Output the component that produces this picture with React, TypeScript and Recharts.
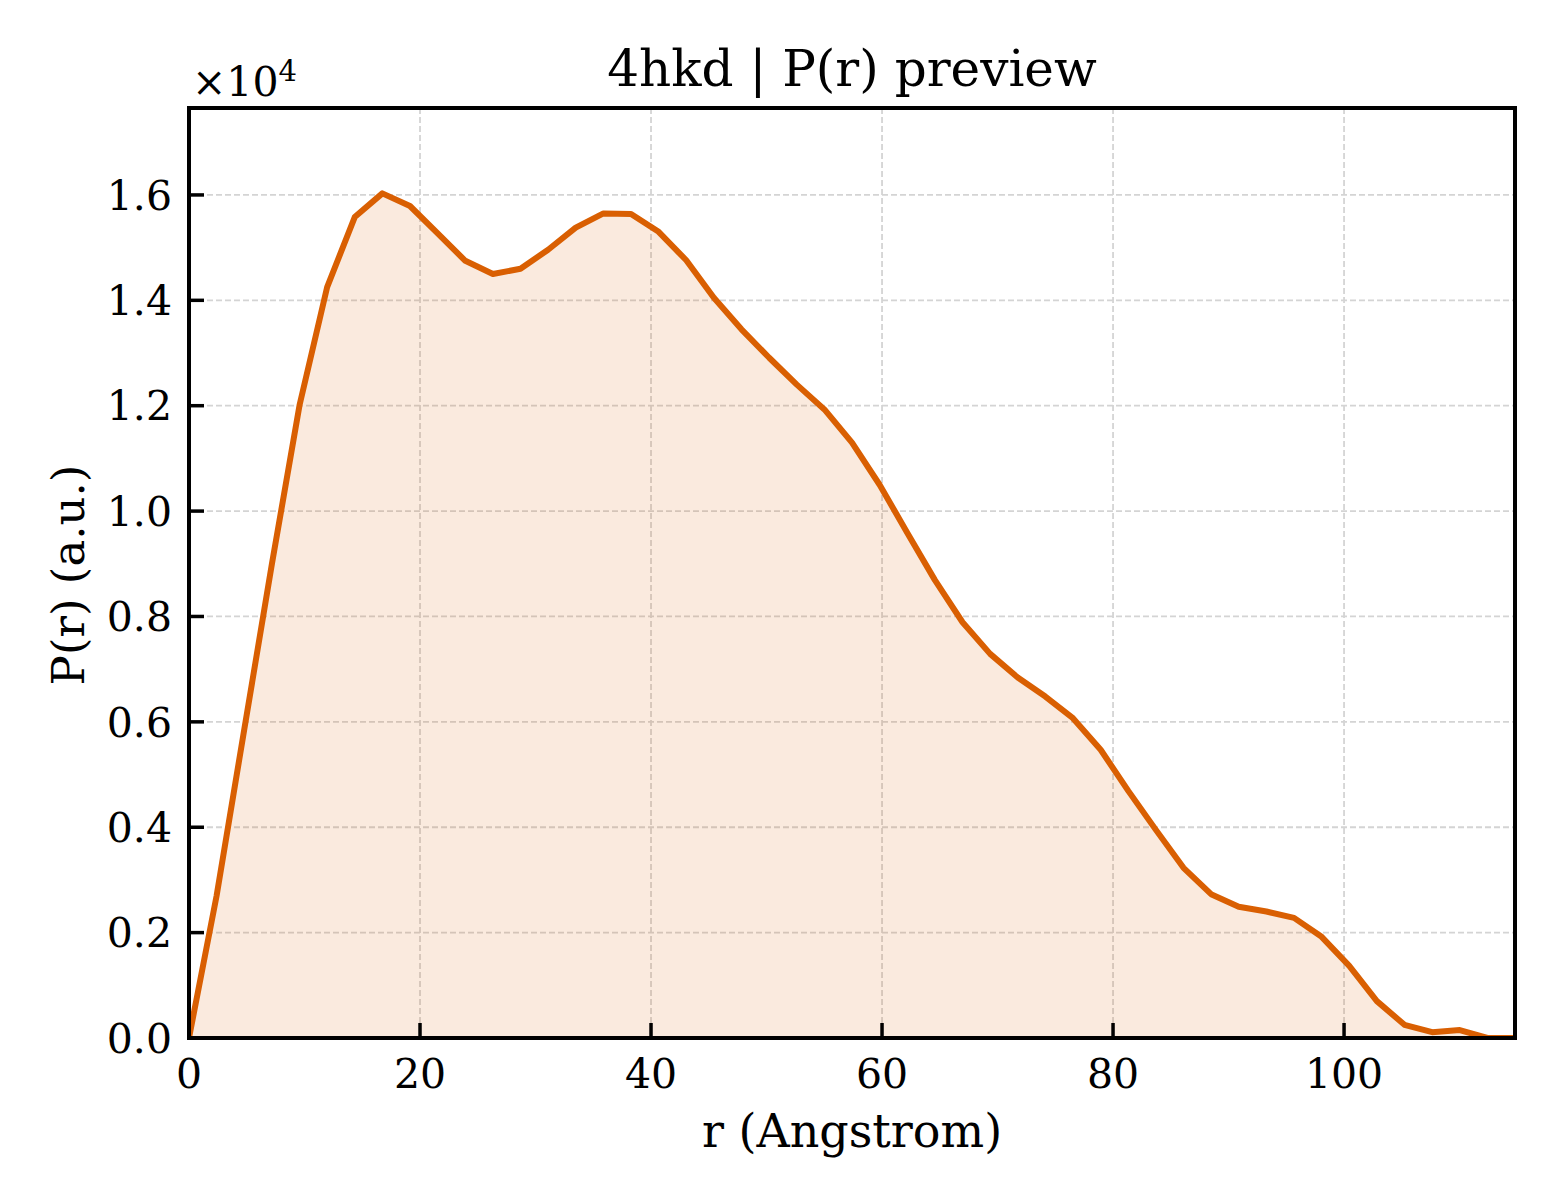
import React from "react";
import {
  Area,
  CartesianGrid,
  ComposedChart,
  Customized,
  ReferenceArea,
  ReferenceLine,
  XAxis,
  YAxis,
} from "recharts";

// r in Angstrom, P(r) in arbitrary units (raw, axis shows x10^4)
const rValues = [
  0, 2.39, 4.78, 7.18, 9.57, 11.96, 14.35, 16.74, 19.13, 21.53, 23.92, 26.31,
  28.7, 31.09, 33.48, 35.88, 38.27, 40.66, 43.05, 45.44, 47.83, 50.23, 52.62,
  55.01, 57.4, 59.79, 62.18, 64.58, 66.97, 69.36, 71.75, 74.14, 76.53, 78.93,
  81.32, 83.71, 86.1, 88.49, 90.88, 93.28, 95.67, 98.06, 100.45, 102.84,
  105.23, 107.63, 110.02, 112.41, 114.8,
];

const prValues = [
  0, 2700, 5850, 9000, 12010, 14250, 15580, 16030, 15790, 15270, 14750, 14500,
  14600, 14960, 15380, 15650, 15640, 15300, 14760, 14050, 13450, 12910, 12400,
  11930, 11300, 10500, 9590, 8690, 7890, 7290, 6840, 6480, 6070, 5470, 4690,
  3950, 3230, 2730, 2490, 2400, 2280, 1920, 1370, 700, 250, 110, 150, 0, 0,
];

const xTicks = [0, 20, 40, 60, 80, 100];
const yTicks = [0, 2000, 4000, 6000, 8000, 10000, 12000, 14000, 16000];

const X_MAX = 114.8;
const Y_MAX = 17650;

const FONT = "'DejaVu Serif', serif";
const LINE = "#d95f02";

// plot box is 1326 x 930 px; inward tick marks ~15 px long
const PLOT_W = 1326;
const PLOT_H = 930;
const TICK_PX = 15;
const X_TICK_LEN = (Y_MAX * TICK_PX) / PLOT_H;
const Y_TICK_LEN = (X_MAX * TICK_PX) / PLOT_W;

const data = rValues.map((r, i) => ({ r, pr: prValues[i] }));

function XTick(props: any) {
  const { x, y, payload } = props;
  return (
    <text x={x} y={y} dy="0.75em" textAnchor="middle" fontSize={41} fontFamily={FONT} fill="#000">
      {payload.value}
    </text>
  );
}

function YTick(props: any) {
  const { x, y, payload } = props;
  return (
    <text x={x} y={y} dy="0.36em" textAnchor="end" fontSize={41} fontFamily={FONT} fill="#000">
      {(payload.value / 10000).toFixed(1)}
    </text>
  );
}

function Labels() {
  return (
    <g fontFamily={FONT} fill="#000">
      <text x={852} y={86} fontSize={50} textAnchor="middle">
        4hkd | P(r) preview
      </text>
      <text x={852} y={1147} fontSize={46} textAnchor="middle">
        r (Angstrom)
      </text>
      <text
        x={84}
        y={575}
        fontSize={45}
        textAnchor="middle"
        transform="rotate(-90 84 575)"
      >
        P(r) (a.u.)
      </text>
      <text x={192} y={96} fontSize={41}>
        ×10
        <tspan fontSize={29} dy={-15}>
          4
        </tspan>
      </text>
    </g>
  );
}

export default function App() {
  return (
    <div
      style={{
        position: "absolute",
        left: 0,
        top: 0,
        width: 1560,
        height: 1200,
        background: "#fff",
      }}
    >
      <ComposedChart
        width={1560}
        height={1200}
        data={data}
        margin={{ top: 108, right: 45, left: 89, bottom: 102 }}
      >
        <CartesianGrid
          stroke="#d4d4d4"
          strokeWidth={1.8}
          strokeDasharray="6 3"
        />
        <XAxis
          dataKey="r"
          type="number"
          domain={[0, X_MAX]}
          ticks={xTicks}
          allowDataOverflow
          height={60}
          axisLine={false}
          tickLine={false}
          tickSize={0}
          tickMargin={19}
          tick={<XTick />}
        />
        <YAxis
          type="number"
          domain={[0, Y_MAX]}
          ticks={yTicks}
          allowDataOverflow
          width={100}
          axisLine={false}
          tickLine={false}
          tickSize={0}
          tickMargin={17}
          tick={<YTick />}
        />
        <Area
          type="linear"
          dataKey="pr"
          stroke={LINE}
          strokeWidth={6}
          strokeLinejoin="round"
          fill={LINE}
          fillOpacity={0.13}
          dot={false}
          activeDot={false}
          isAnimationActive={false}
        />
        {xTicks.map((t) => (
          <ReferenceLine
            key={`xt${t}`}
            segment={[
              { x: t, y: 0 },
              { x: t, y: X_TICK_LEN },
            ]}
            stroke="#000"
            strokeWidth={3.5}
          />
        ))}
        {yTicks.map((t) => (
          <ReferenceLine
            key={`yt${t}`}
            segment={[
              { x: 0, y: t },
              { x: Y_TICK_LEN, y: t },
            ]}
            stroke="#000"
            strokeWidth={3.5}
          />
        ))}
        <ReferenceArea
          x1={0}
          x2={X_MAX}
          y1={0}
          y2={Y_MAX}
          fill="none"
          stroke="#000"
          strokeWidth={4}
          ifOverflow="visible"
        />
        <Customized component={<Labels />} />
      </ComposedChart>
    </div>
  );
}
